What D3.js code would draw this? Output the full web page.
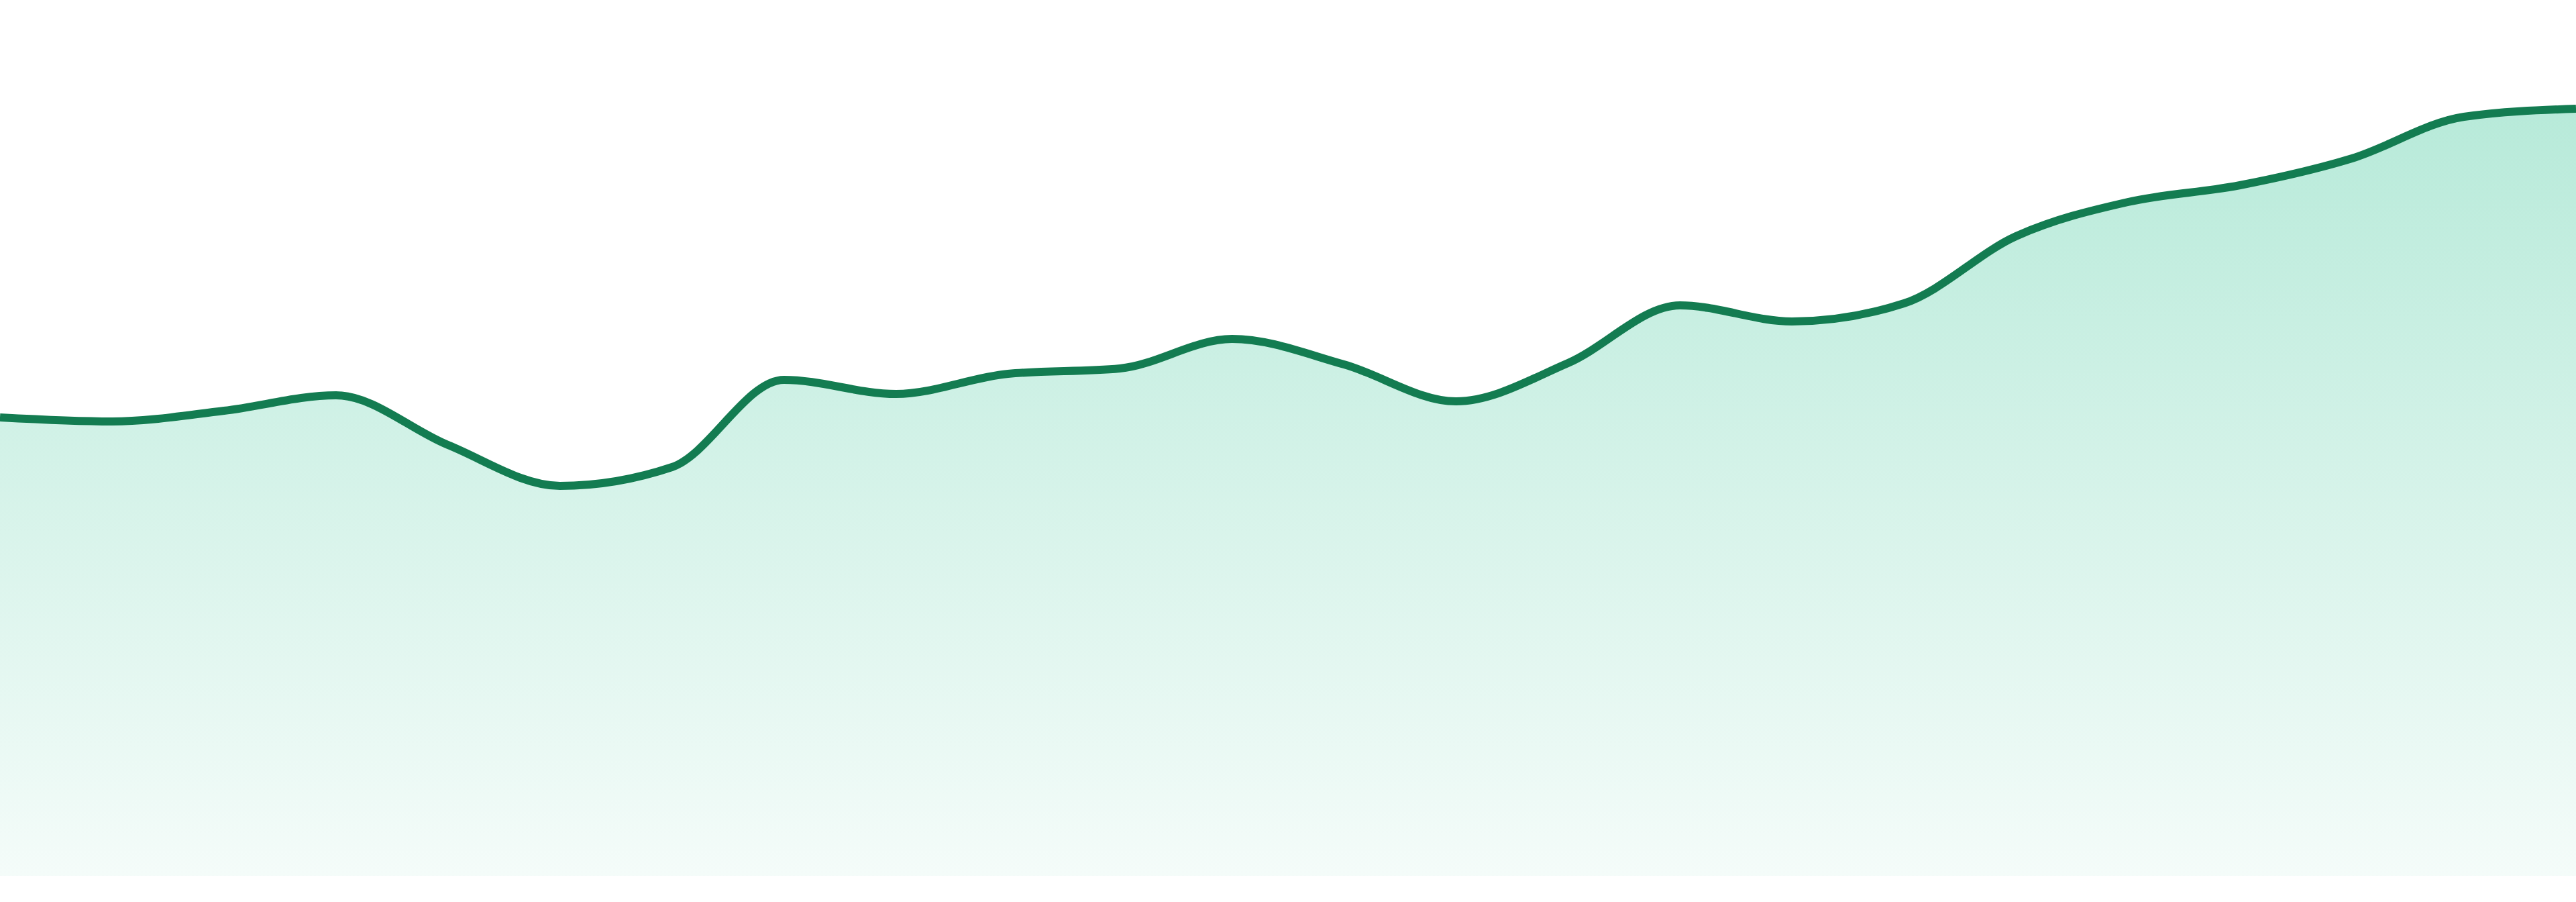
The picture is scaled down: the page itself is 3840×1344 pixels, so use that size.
<!DOCTYPE html>
<html>
<head>
<meta charset="utf-8">
<script src="https://cdn.jsdelivr.net/npm/d3@7"></script>
<style>
  html, body { margin: 0; padding: 0; background: #ffffff; overflow: hidden; }
</style>
</head>
<body>
<div id="chart"></div>
<script>
// months along the x axis (no labels drawn in the picture)
var months = ["Jan 23", "Feb 23", "Mar 23", "Apr 23", "May 23", "Jun 23",
              "Jul 23", "Aug 23", "Sep 23", "Oct 23", "Nov 23", "Dec 23",
              "Jan 24", "Feb 24", "Mar 24", "Apr 24", "May 24", "Jun 24",
              "Jul 24", "Aug 24", "Sep 24", "Oct 24", "Nov 24", "Dec 24"];

// series values
var values = [68.3, 67.7, 69.3, 71.6, 64.2, 58.1,
              60.9, 73.9, 71.8, 74.8, 75.6, 80.0,
              76.2, 70.7, 76.4, 85.0, 82.6, 85.3,
              95.3, 100.4, 102.9, 106.9, 113.1, 114.3];

var yDomain = [0, 130.5];

var width = 3840;
var height = 1344;
var plotBottom = 1305;

var data = months.map(function (m, i) { return { month: m, value: values[i] }; });

var svg = d3.select('#chart')
    .append('svg')
    .attr('width', width)
    .attr('height', height)
    .style('display', 'block');

var x = d3.scalePoint()
    .domain(months)
    .range([0, width]);

var y = d3.scaleLinear()
    .domain(yDomain)
    .range([plotBottom, 0]);

// fading green fill under the line
var defs = svg.append('defs');
var grad = defs.append('linearGradient')
    .attr('id', 'areaFill')
    .attr('gradientUnits', 'userSpaceOnUse')
    .attr('x1', 0).attr('x2', 0)
    .attr('y1', y(d3.max(values)))
    .attr('y2', plotBottom);
grad.append('stop').attr('offset', '0%').attr('stop-color', '#10b981').attr('stop-opacity', 0.3);
grad.append('stop').attr('offset', '100%').attr('stop-color', '#10b981').attr('stop-opacity', 0.045);

var area = d3.area()
    .x(function (d) { return x(d.month); })
    .y0(plotBottom)
    .y1(function (d) { return y(d.value); })
    .curve(d3.curveMonotoneX);

var line = d3.line()
    .x(function (d) { return x(d.month); })
    .y(function (d) { return y(d.value); })
    .curve(d3.curveMonotoneX);

svg.append('path')
    .datum(data)
    .attr('fill', 'url(#areaFill)')
    .attr('d', area);

svg.append('path')
    .datum(data)
    .attr('fill', 'none')
    .attr('stroke', '#137c51')
    .attr('stroke-width', 12)
    .attr('stroke-linejoin', 'round')
    .attr('d', line);
</script>
</body>
</html>
